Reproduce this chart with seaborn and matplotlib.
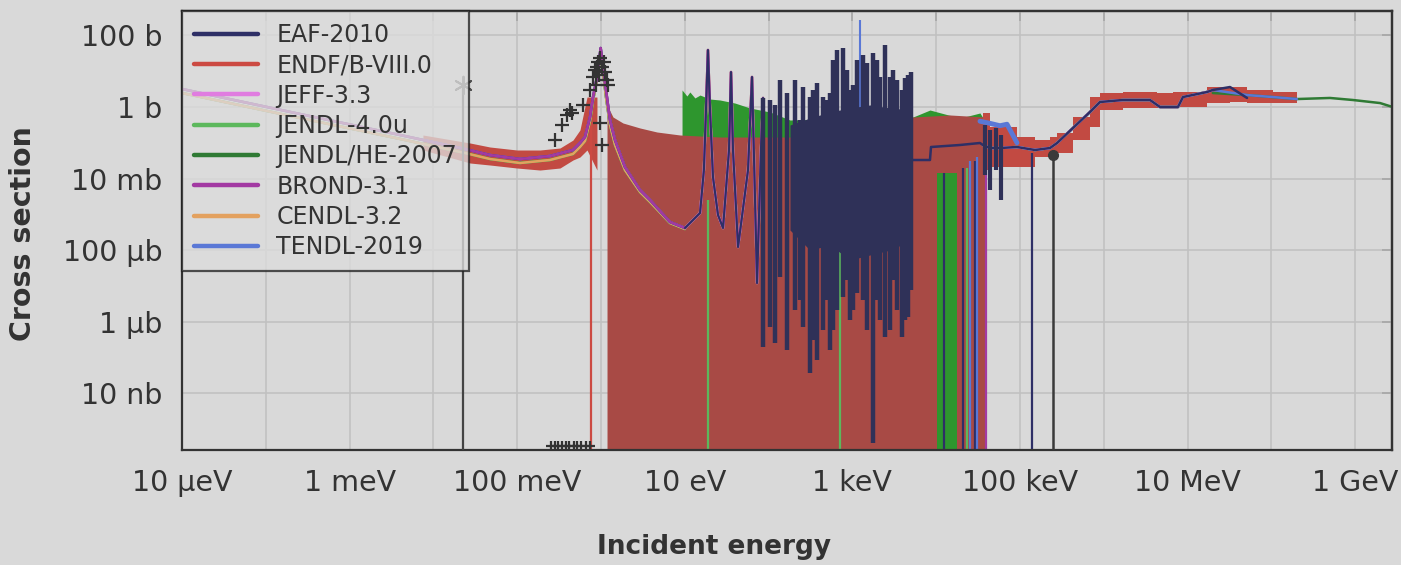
import matplotlib
matplotlib.use("Agg")
import matplotlib.pyplot as plt
import seaborn as sns
from matplotlib.ticker import FixedLocator, FixedFormatter, NullLocator

# ------------------------------------------------------------------
# Evaluated cross sections (energy in eV, cross section in barns)
# ------------------------------------------------------------------
libraries = ["EAF-2010", "ENDF/B-VIII.0", "JEFF-3.3", "JENDL-4.0u",
             "JENDL/HE-2007", "BROND-3.1", "CENDL-3.2", "TENDL-2019"]
colors = {
    "EAF-2010": "#2e2f66",
    "ENDF/B-VIII.0": "#cc4a42",
    "JEFF-3.3": "#e07ce0",
    "JENDL-4.0u": "#5cb85c",
    "JENDL/HE-2007": "#2f7a34",
    "BROND-3.1": "#a33aa3",
    "CENDL-3.2": "#e3a15f",
    "TENDL-2019": "#5a78d6",
}
endf_fill_color = "#a84a45"
endf_band_color = "#c24a42"
jendl4_fill_color = "#2e962e"
forest_color = "#2f3158"

# thermal range and first resonance
thermal_e = [1e-5, 2.56e-4, 4.0e-3, 0.0238, 0.0473, 0.108, 0.246, 0.463, 0.561, 0.644,
             0.740, 0.804, 0.895, 0.992, 1.057, 1.148, 1.28, 1.47, 1.93, 2.92, 3.85,
             6.65, 10.05]
thermal_sig = [3.19, 0.637, 0.165, 0.067, 0.0455, 0.0352, 0.0427, 0.0628, 0.0986, 0.145,
               0.525, 1.90, 6.9, 44.6, 13.1, 2.99, 0.433, 0.119, 0.021, 4.78e-3, 2.51e-3,
               6.1e-4, 4.14e-4]
thermal_sig_low = [2.46, 0.493, 0.128, 0.0518, 0.0352, 0.0272, 0.033, 0.0486, 0.0762, 0.112,
                   0.406, 1.57, 5.69, 32.3, 9.5, 1.90, 0.314, 0.0867, 0.0173, 4.2e-3,
                   2.21e-3, 5.7e-4, 3.88e-4]

# resolved resonances 10 - 90 eV
res_e = [10.05, 15.2, 16.9, 17.9, 18.9, 20.0, 21.7, 24.9, 28.6, 33.7, 35.6, 37.6, 43.2,
         56.8, 63.4, 68.9, 72.8, 81.1, 85.8]
res_sig = [4.14e-4, 1.09e-3, 0.0173, 0.824, 39.2, 0.824, 0.011, 9.6e-4, 4.14e-4, 0.0628,
           9.5, 0.0628, 1.22e-4, 0.0173, 6.9, 2.5e-3, 1.2e-5, 0.0628, 1.79]

# EAF-2010 dense resonance forest (trough / peak of each resonance)
forest_e = [85.8, 104, 119, 137, 166, 207, 237, 258, 312, 339, 378, 446, 498, 541, 586,
            655, 773, 862, 935, 1016, 1135, 1337, 1493, 1762, 1967, 2133, 2449, 2812,
            3048, 3404, 3908, 4246, 4604, 5000]
forest_lo = [1.95e-7, 7.1e-7, 2.52e-7, 1.77e-5, 1.61e-7, 2.11e-6, 4.0e-6, 7.1e-7, 3.66e-8,
             3.0e-7, 8.5e-8, 5.8e-7, 4.0e-6, 1.61e-7, 5.8e-7, 2.11e-6, 4.9e-6, 1.46e-5,
             1.11e-6, 2.11e-6, 6.3e-6, 4.0e-6, 5.8e-7, 4.0e-10, 4.0e-6, 1.11e-6, 3.72e-7,
             5.8e-7, 1.46e-5, 2.11e-6, 3.72e-7, 1.11e-6, 1.35e-6, 7.65e-6]
forest_hi = [1.79, 1.57, 1.14, 5.69, 2.46, 5.69, 0.433, 3.62, 1.90, 2.99, 4.69, 1.90, 1.57,
             2.46, 20.6, 39.2, 44.6, 10.8, 2.99, 4.12, 20.6, 28.4, 17.0, 32.3, 20.6, 6.9,
             54.0, 6.9, 10.8, 5.69, 2.99, 6.45, 7.85, 9.5]
core_e = [180, 312, 541, 935, 1622, 2812, 5140]
core_lo = [3.64e-4, 1.0e-4, 1.39e-4, 5.3e-5, 7.3e-5, 1.0e-4, 1.9e-4]
core_hi = [0.314, 0.493, 0.725, 0.938, 1.14, 0.938, 0.824]

# EAF-2010 unresolved-range average
urr_e = [5285, 8430, 8670, 1.92e4, 3.33e4, 3.61e4]
urr_sig = [0.033, 0.033, 0.0762, 0.0867, 0.0986, 0.0867]
urr_jag_e = [3.82e4, 4.4e4, 5.2e4, 6.0e4]
urr_jag_lo = [0.0126, 4.8e-3, 0.0173, 2.5e-3]
urr_jag_hi = [0.314, 0.228, 0.259, 0.165]

# fast range, common to all libraries up to 20 MeV
fast_e = [3.61e4, 4.38e4, 5.77e4, 9.2e4, 1.51e5, 2.28e5, 2.77e5, 4.29e5, 6.84e5, 9.0e5,
          1.69e6, 3.56e6, 4.69e6, 7.67e6, 8.81e6, 1.71e7, 2.0e7]
fast_sig = [0.0867, 0.0714, 0.0714, 0.0762, 0.0628, 0.0714, 0.0986, 0.259, 0.725, 1.38,
            1.57, 1.57, 1.0, 1.0, 1.90, 2.63, 2.99]
eaf_tail_e = [2.0e7, 3.21e7, 5.12e7]
eaf_tail_sig = [2.99, 3.62, 1.79]
tendl_tail_e = [2.0e7, 5.12e7, 1.04e8, 2.02e8]
tendl_tail_sig = [2.99, 2.16, 1.90, 1.67]
jendl_he_tail_e = [2.0e7, 5.12e7, 2.02e8, 5.0e8, 9.4e8, 1.98e9, 3.0e9]
jendl_he_tail_sig = [2.46, 2.16, 1.67, 1.79, 1.57, 1.29, 0.95]
tendl_urr_e = [3.33e4, 4.38e4, 5.77e4, 7.0e4, 9.2e4]
tendl_urr_sig = [0.40, 0.35, 0.30, 0.33, 0.10]

# ENDF/B-VIII.0: thermal band, dense resonance region, fast band
endf_th_e = [7.5e-3, 0.0274, 0.0473, 0.0995, 0.187, 0.324, 0.463, 0.561, 0.681, 0.895]
endf_th_hi = [0.165, 0.0986, 0.0762, 0.0628, 0.0628, 0.0714, 0.119, 0.228, 1.90, 1.90]
endf_th_lo = [0.0628, 0.0272, 0.0239, 0.0197, 0.0173, 0.0197, 0.033, 0.040, 0.0628, 0.0173]
endf_res_e = [1.18, 1.39, 1.83, 2.92, 4.66, 8.77, 26.3, 237, 5285, 1.46e4, 3.82e4]
endf_res_top = [1.14, 0.525, 0.357, 0.259, 0.20, 0.165, 0.145, 0.145, 0.525, 0.598, 0.525]
endf_fast_e = [3.61e4, 4.38e4, 9.2e4, 1.51e5, 2.28e5, 2.77e5, 4.29e5, 6.84e5, 9.0e5, 1.69e6,
               4.31e6, 6.70e6, 1.71e7, 3.21e7, 5.12e7, 1.04e8, 2.02e8]
endf_fast_hi = [0.68, 0.276, 0.145, 0.119, 0.145, 0.188, 0.525, 1.90, 2.46, 2.63, 2.46,
                2.63, 3.62, 3.62, 2.99, 2.63, 2.63]
endf_fast_lo = [0.0173, 0.021, 0.021, 0.040, 0.040, 0.0518, 0.119, 0.276, 0.824, 0.938,
                0.938, 1.0, 1.29, 1.38, 1.29, 1.29, 1.29]

# JENDL-4.0u dense resonance region
jendl4_res_e = [9.27, 10.6, 11.5, 13.2, 15.2, 20.0, 26.3, 39.7, 60, 104, 180, 5285, 8430,
                1.92e4, 3.33e4, 3.82e4]
jendl4_res_top = [2.99, 2.03, 2.63, 1.79, 2.16, 1.67, 1.57, 1.29, 0.938, 0.725, 0.433,
                  0.525, 0.824, 0.49, 0.68, 0.40]
jendl4_stripe_e = [1.02e4, 1.77e4]
jendl4_stripe_top = [0.0143, 0.0143]

# single points that drop below the plotted range
drops = {
    "JENDL-4.0u": ([18.9, 711, 2.3e4], [2.5e-3, 1.3e-3, 0.02]),
    "EAF-2010": ([1.23e4, 2.09e4, 2.9e4, 1.39e5], [0.0143, 0.02, 0.03, 0.0518]),
    "TENDL-2019": ([2.53e4, 3.07e4], [0.03, 0.04]),
    "BROND-3.1": ([3.93e4], [0.03]),
    "ENDF/B-VIII.0": ([0.76], [0.357]),
}
tendl_spike_e = [1233]
tendl_spike_lo = [0.7]
tendl_spike_hi = [270]

# measured data
exfor_e = [0.282, 0.340, 0.390, 0.427, 0.451, 0.609, 0.740, 0.804, 0.848, 0.871, 0.895,
           0.92, 0.946, 0.973, 0.973, 1.028, 1.028, 1.087, 1.117, 1.18, 1.21]
exfor_sig = [0.119, 0.314, 0.598, 0.824, 0.68, 1.14, 2.99, 6.9, 10.8, 4.12, 13.1, 18.1,
             7.85, 23.4, 0.357, 13.1, 0.0867, 18.1, 9.5, 5.69, 4.12]
exfor_floor_e = [0.25, 0.28, 0.31, 0.34, 0.38, 0.42, 0.47, 0.52, 0.58, 0.66, 0.73]
exfor_floor_sig = [3.3e-10] * 11
thermal_point_e, thermal_point_sig = 0.0225, 4.12
fast_point_e, fast_point_sig = 2.48e5, 0.0455

x_ticks = [1e-5, 1e-4, 1e-3, 1e-2, 1e-1, 1, 1e1, 1e2, 1e3, 1e4, 1e5, 1e6, 1e7, 1e8, 1e9]
x_labels = ["10 µeV", "", "1 meV", "", "100 meV", "", "10 eV", "", "1 keV", "",
            "100 keV", "", "10 MeV", "", "1 GeV"]
y_ticks = [1e-8, 1e-6, 1e-4, 1e-2, 1, 1e2]
y_labels = ["10 nb", "1 µb", "100 µb", "10 mb", "1 b", "100 b"]

# ------------------------------------------------------------------
BG = "#d9d9d9"
INK = "#333333"
sns.set_theme(style="whitegrid")
plt.rcParams["font.family"] = ["DejaVu Sans"]

fig = plt.figure(figsize=(14.01, 5.65), dpi=100, facecolor=BG)
ax = fig.add_axes([182 / 1401, 1 - 450 / 565, 1210 / 1401, 439 / 565])
ax.set_facecolor(BG)
ax.set_xscale("log")
ax.set_yscale("log")
FLOOR = 1e-12
LW = 1.8

handles = {}


def line(x, y, lib, z, lw=LW, **kw):
    sns.lineplot(x=x, y=y, ax=ax, color=colors[lib], lw=lw, estimator=None,
                 sort=False, legend=False, zorder=z, **kw)
    handles.setdefault(lib, ax.lines[-1])


# filled dense-resonance regions
ax.fill_between(jendl4_res_e, jendl4_res_top, FLOOR, color=jendl4_fill_color, lw=0, zorder=1.5)
ax.fill_between(endf_res_e, endf_res_top, FLOOR, color=endf_fill_color, lw=0, zorder=1.6)
ax.fill_between(jendl4_stripe_e, jendl4_stripe_top, FLOOR, color=jendl4_fill_color, lw=0, zorder=1.7)
ax.fill_between(endf_th_e, endf_th_lo, endf_th_hi, color=endf_band_color, lw=0, zorder=1.6)
ax.fill_between(endf_fast_e, endf_fast_lo, endf_fast_hi, step="post", color=endf_band_color,
                lw=0, zorder=1.6)

# vertical drops
for lib, (de, dtop) in drops.items():
    ax.vlines(de, FLOOR, dtop, color=colors[lib], lw=1.6, zorder=1.8)
line([0.76, 0.76], [0.357, 0.357], "ENDF/B-VIII.0", 1.8)

# smooth curves
line(thermal_e, thermal_sig_low, "JENDL/HE-2007", 2.0)
line(fast_e, fast_sig, "JENDL/HE-2007", 2.0)
line(jendl_he_tail_e, jendl_he_tail_sig, "JENDL/HE-2007", 2.0)
line(thermal_e, thermal_sig_low, "JENDL-4.0u", 2.1)
line(res_e, res_sig, "JENDL-4.0u", 2.1)
line(fast_e, fast_sig, "JENDL-4.0u", 2.1)
line(thermal_e, thermal_sig_low, "CENDL-3.2", 2.2)
line(res_e, res_sig, "CENDL-3.2", 2.2)
line(fast_e, fast_sig, "CENDL-3.2", 2.2)
line(thermal_e, thermal_sig, "TENDL-2019", 2.3)
line(tendl_urr_e, tendl_urr_sig, "TENDL-2019", 2.3, lw=3.5)
line(fast_e, fast_sig, "TENDL-2019", 2.3)
line(tendl_tail_e, tendl_tail_sig, "TENDL-2019", 2.3)
ax.vlines(tendl_spike_e, tendl_spike_lo, tendl_spike_hi, color=colors["TENDL-2019"], lw=1.5, zorder=2.3)
line(thermal_e, thermal_sig, "JEFF-3.3", 2.4)
line(res_e, res_sig, "JEFF-3.3", 2.4)
line(fast_e, fast_sig, "JEFF-3.3", 2.4)
line(thermal_e, thermal_sig, "EAF-2010", 2.5)
line(urr_e, urr_sig, "EAF-2010", 2.5)
line(fast_e, fast_sig, "EAF-2010", 2.5)
line(eaf_tail_e, eaf_tail_sig, "EAF-2010", 2.5)
line(thermal_e, thermal_sig, "BROND-3.1", 2.6)
line(res_e, res_sig, "BROND-3.1", 2.6)
line(res_e, res_sig, "EAF-2010", 2.65, lw=1.5)

# EAF-2010 resonance forest
ax.fill_between(core_e, core_lo, core_hi, color=forest_color, lw=0, zorder=2.7)
ax.vlines(forest_e, forest_lo, forest_hi, color=forest_color, lw=3.2, zorder=2.7)
ax.vlines(urr_jag_e, urr_jag_lo, urr_jag_hi, color=forest_color, lw=3.0, zorder=2.7)

# measurements
ax.scatter(exfor_e, exfor_sig, marker="+", s=110, color="#333333", lw=1.6, zorder=3)
ax.scatter(exfor_floor_e, exfor_floor_sig, marker="+", s=60, color="#333333", lw=1.6,
           zorder=3, clip_on=False)
ax.errorbar([thermal_point_e], [thermal_point_sig],
            yerr=[[thermal_point_sig - FLOOR], [0]], fmt="none", ecolor="#444444",
            elinewidth=1.6, zorder=3)
ax.scatter([thermal_point_e], [thermal_point_sig], marker=(6, 2, 0), s=160,
           color="#555555", lw=1.4, zorder=3)
ax.errorbar([fast_point_e], [fast_point_sig], yerr=[[fast_point_sig - FLOOR], [0]],
            fmt="o", ms=7, color="#3a3a3a", elinewidth=1.8, zorder=3)

# axes
ax.set_xlim(1e-5, 2.75e9)
ax.set_ylim(2.58e-10, 483)
ax.xaxis.set_major_locator(FixedLocator(x_ticks))
ax.xaxis.set_major_formatter(FixedFormatter(x_labels))
ax.yaxis.set_major_locator(FixedLocator(y_ticks))
ax.yaxis.set_major_formatter(FixedFormatter(y_labels))
ax.xaxis.set_minor_locator(NullLocator())
ax.yaxis.set_minor_locator(NullLocator())
ax.grid(True, color="#c1c1c1", lw=1.2)
ax.set_axisbelow(True)
ax.tick_params(axis="both", direction="inout", length=15, width=1.3, color=INK,
               labelcolor=INK, labelsize=20.5)
ax.tick_params(axis="x", pad=6)
ax.tick_params(axis="y", pad=6.5)
for s in ax.spines.values():
    s.set_color(INK)
    s.set_linewidth(1.6)
    s.set_visible(True)

top = ax.secondary_xaxis("top")
top.xaxis.set_major_locator(FixedLocator(x_ticks))
top.xaxis.set_minor_locator(NullLocator())
top.tick_params(direction="in", length=7, width=1.3, color=INK, labeltop=False)
right = ax.secondary_yaxis("right")
right.yaxis.set_major_locator(FixedLocator(y_ticks))
right.yaxis.set_minor_locator(NullLocator())
right.tick_params(direction="in", length=7, width=1.3, color=INK, labelright=False)
for sec in (top, right):
    for s in sec.spines.values():
        s.set_color(INK)
        s.set_linewidth(1.6)

ax.set_xlabel("Incident energy", fontsize=19, fontweight="bold", color=INK)
ax.set_ylabel("Cross section", fontsize=20.5, fontweight="bold", color=INK)
ax.xaxis.label.set_va("center")
ax.yaxis.label.set_va("center")
ax.xaxis.set_label_coords(0.44, -0.221)
ax.yaxis.set_label_coords(-0.1314, 0.494)

leg = ax.legend([handles[k] for k in libraries], libraries, loc="upper left",
                bbox_to_anchor=(0, 1), borderaxespad=0, fontsize=17, frameon=True,
                fancybox=False, edgecolor="#222222", facecolor="#dcdcdc", framealpha=0.78,
                handlelength=2.7, handletextpad=0.8, labelspacing=0.27, borderpad=0.5)
leg.get_frame().set_linewidth(1.6)
leg.set_zorder(10)
for t in leg.get_texts():
    t.set_color(INK)
for h in leg.legend_handles:
    h.set_linewidth(3.2)

fig.savefig("out.png", dpi=100, facecolor=BG)
